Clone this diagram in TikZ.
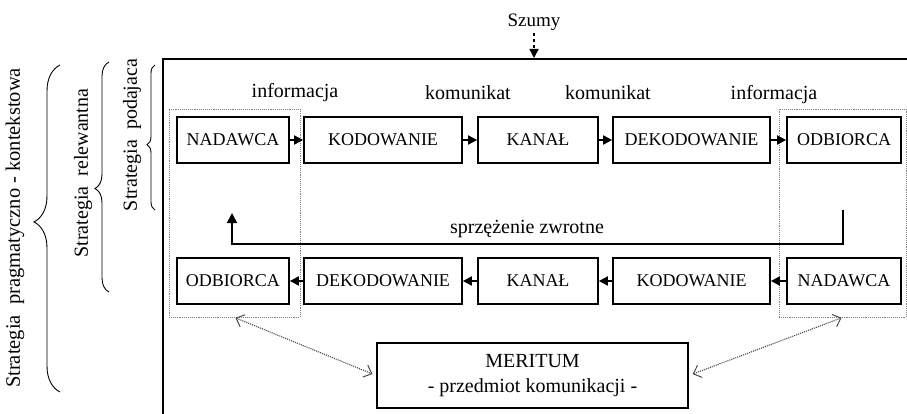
\documentclass[tikz,border=0pt]{standalone}
\usepackage{fontspec}
\setmainfont{Liberation Serif}
\usetikzlibrary{arrows.meta,decorations.pathreplacing}

\begin{document}
\begin{tikzpicture}[x=1pt,y=-1pt,
  box/.style={draw,line width=1.7pt,minimum height=46pt,inner sep=0pt,
    font=\fontsize{18}{21}\selectfont},
  lab/.style={inner sep=0pt,font=\fontsize{20}{24}\selectfont},
  flow/.style={line width=1.8pt,-{Triangle[length=9pt,width=9pt]}},
  grp/.style={draw=gray,densely dotted,line width=0.9pt,inner sep=0pt},
  link/.style={densely dotted,line width=1.1pt,draw=gray!60!black,
    shorten <=1pt,shorten >=4pt,
    {Straight Barb[length=7pt,width=13pt,line width=1pt]}-{Straight Barb[length=7pt,width=13pt,line width=1pt]}},
  brc/.style={decorate,line width=0.9pt,decoration={brace,#1}}
]
\useasboundingbox (0,0) rectangle (907,414);

% outer frame (open to the right and bottom)
\coordinate (frBL) at (163,414);
\coordinate (frTL) at (163,59);
\coordinate (frTR) at (907,59);
\draw[line width=2pt] (frBL) -- (frTL) -- (frTR);

% noise entering the channel
\node[inner sep=0pt,font=\fontsize{19}{22}\selectfont] (szumy) at (534,22) {Szumy};
\coordinate (noise) at (534,58);
\draw[line width=1.4pt,dash pattern=on 3pt off 3pt,-{Triangle[length=9pt,width=9pt]}]
  ([yshift=-2pt]szumy.south) -- (noise);

% dotted groups around sender/receiver pairs
\node[grp,minimum width=131pt,minimum height=208pt] (lgrp) at (234.5,213) {};
\node[grp,minimum width=127pt,minimum height=208pt] (rgrp) at (842.5,213) {};

% forward chain
\node[box,minimum width=112pt] (n1) at (233,140) {NADAWCA};
\node[box,minimum width=158pt] (k1) at (383,140) {KODOWANIE};
\node[box,minimum width=120pt] (c1) at (538,140) {KANAŁ};
\node[box,minimum width=157pt] (d1) at (691.5,140) {DEKODOWANIE};
\node[box,minimum width=114pt] (o1) at (844,140) {ODBIORCA};
\draw[flow] (n1) -- (k1);
\draw[flow] (k1) -- (c1);
\draw[flow] (c1) -- (d1);
\draw[flow] (d1) -- (o1);

\node[lab] (inf1) at (295,93) {informacja};
\node[lab] (kom1) at (468,93) {komunikat};
\node[lab] (kom2) at (608,93) {komunikat};
\node[lab] (inf2) at (774,95) {informacja};

% return chain
\node[box,minimum width=112pt] (o2) at (233,281) {ODBIORCA};
\node[box,minimum width=158pt] (d2) at (383,281) {DEKODOWANIE};
\node[box,minimum width=120pt] (c2) at (538,281) {KANAŁ};
\node[box,minimum width=157pt] (k2) at (691.5,281) {KODOWANIE};
\node[box,minimum width=114pt] (n2) at (844,281) {NADAWCA};
\draw[flow] (n2) -- (k2);
\draw[flow] (k2) -- (c2);
\draw[flow] (c2) -- (d2);
\draw[flow] (d2) -- (o2);

% feedback loop
\coordinate (fbA) at (843,210);
\coordinate (fbB) at (232,213);
\draw[line width=1.7pt,-{Triangle[length=10pt,width=10pt]}]
  (fbA) -- ++(0,34) -| (fbB);
\node[lab] (fb) at (527,229) {sprzężenie zwrotne};

% subject of communication
\node[draw,line width=1.7pt,minimum width=311pt,minimum height=65pt,
  align=center,inner sep=0pt,font=\fontsize{20}{25}\selectfont]
  (merit) at (532.5,375.5) {MERITUM\\- przedmiot komunikacji -};
\draw[link] (lgrp.south) -- (merit.west);
\draw[link] (rgrp.south) -- (merit.east);

% strategy braces
\coordinate (b1s) at (155,210);
\coordinate (b1e) at (155,65);
\draw[brc={amplitude=8pt,aspect=0.45}] (b1s) -- (b1e);
\node[lab,rotate=90] (s1) at (132,135) {Strategia~ podajaca};

\coordinate (b2s) at (109,292);
\coordinate (b2e) at (109,62);
\draw[brc={amplitude=14pt,aspect=0.45}] (b2s) -- (b2e);
\node[lab,rotate=90] (s2) at (83,173) {Strategia~ relewantna};

\coordinate (b3s) at (60,392);
\coordinate (b3e) at (60,65);
\draw[brc={amplitude=26pt,aspect=0.52}] (b3s) -- (b3e);
\node[lab,rotate=90,font=\fontsize{20.5}{24}\selectfont] (s3) at (15,228)
  {Strategia~ pragmatyczno - kontekstowa};
\end{tikzpicture}
\end{document}
